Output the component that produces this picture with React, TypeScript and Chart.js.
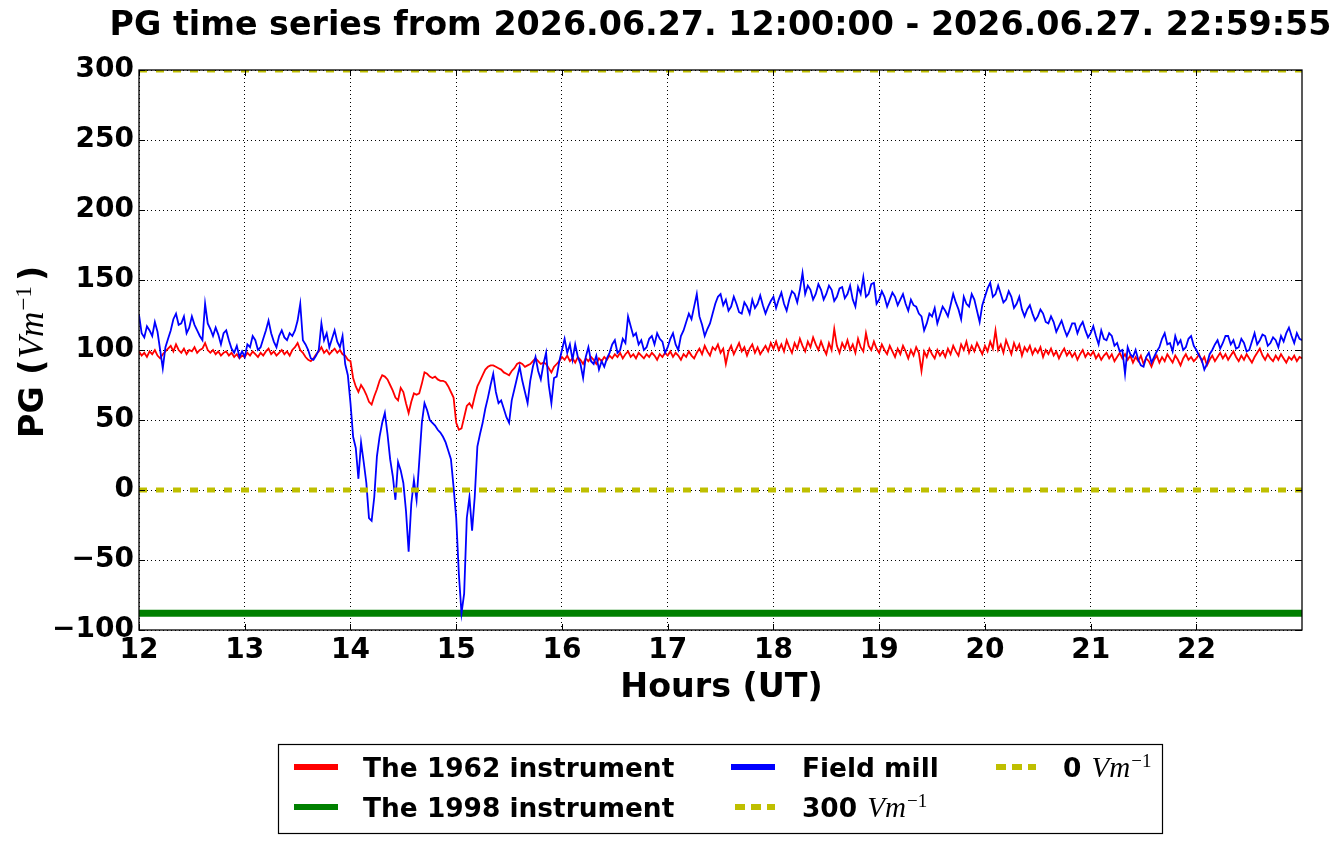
import { useEffect, useRef } from "react";
import { Chart, registerables } from "chart.js";

Chart.register(...registerables);

const TITLE = "PG time series from 2026.06.27. 12:00:00 - 2026.06.27. 22:59:55";
const X_TITLE = "Hours (UT)";

// samples every 0.025 h starting at 12:00 UT
const START_HOUR = 12;
const END_HOUR = 22.9986;
const STEP = 0.025;

const hourTicks = [12, 13, 14, 15, 16, 17, 18, 19, 20, 21, 22];
const pgTicks = [-100, -50, 0, 50, 100, 150, 200, 250, 300];

// The 1962 instrument (V/m)
const pg1962 = [
  99, 96, 98, 95, 99, 97, 100, 96, 94, 97, 99, 101, 103, 99, 104, 100, 98, 101, 97, 100,
  99, 102, 98, 100, 101, 105, 100, 98, 100, 97, 99, 96, 98, 99, 96, 98, 95, 97, 94, 96,
  95, 98, 96, 99, 97, 95, 98, 96, 99, 101, 97, 99, 96, 98, 100, 97, 99, 96, 100, 102,
  105, 100, 98, 95, 93, 92, 94, 97, 99, 102, 98, 100, 97, 99, 101, 98, 100, 97, 96, 93,
  92, 80, 74, 70, 75, 72, 68, 63, 61, 67, 72, 78, 82, 81, 79, 75, 71, 66, 64, 73,
  70, 62, 55, 63, 69, 68, 69, 76, 84, 83, 81, 80, 81, 79, 78, 78, 77, 74, 70, 66,
  48, 43, 44, 52, 60, 62, 59, 67, 74, 78, 82, 86, 88, 89, 89, 88, 87, 86, 84, 83,
  82, 85, 87, 90, 91, 90, 88, 89, 90, 92, 94, 92, 90, 91, 90, 87, 84, 88, 90, 92,
  95, 93, 96, 92, 94, 91, 95, 93, 90, 94, 92, 95, 93, 90, 94, 92, 95, 93, 96, 94,
  97, 95, 98, 94, 97, 99, 95, 97, 94, 98, 96, 94, 97, 95, 98, 96, 93, 97, 95, 98,
  96, 99, 95, 98, 96, 93, 97, 95, 99, 96, 94, 98, 101, 97, 103, 99, 96, 102, 100, 104,
  98, 101, 90, 99, 103, 97, 101, 105, 99, 102, 96, 101, 104, 98, 102, 97, 100, 103, 99, 105,
  101, 106, 100, 104, 99, 107, 102, 98, 105, 101, 108, 103, 99, 106, 102, 109, 104, 100, 106, 101,
  97, 105, 100, 115, 103, 98, 105, 101, 107, 100, 104, 98, 108, 102, 99, 112, 103, 100, 106, 101,
  98, 104, 100, 97, 103, 99, 95, 101, 97, 103, 99, 94, 100, 96, 102, 98, 85, 99, 95, 101,
  97, 94, 100, 96, 99, 95, 101, 97, 103, 99, 96, 104, 100, 106, 98, 103, 99, 105, 101, 97,
  103, 99, 106, 101, 114, 100, 104, 98, 107, 102, 97, 105, 100, 104, 96, 102, 99, 103, 97, 101,
  98, 102, 95, 100, 97, 101, 96, 99, 94, 98, 101, 96, 99, 95, 98, 93, 97, 100, 95, 98,
  96, 99, 94, 97, 93, 96, 98, 94, 97, 92, 95, 98, 94, 97, 93, 96, 91, 95, 92, 96,
  90, 94, 92, 88, 93, 96, 91, 95, 92, 97, 94, 91, 96, 93, 89, 94, 97, 93, 95, 92,
  94, 97, 92, 95, 89, 93, 96, 92, 95, 98, 94, 97, 93, 96, 99, 95, 92, 96, 93, 97,
  94, 91, 95, 98, 101, 96, 93, 97, 94, 92, 96, 93, 97, 94, 91, 95, 93, 96, 92, 95,
  94,
];

// Field mill (V/m)
const fieldMill = [
  125, 112, 109, 117, 114, 110, 120, 113, 100, 87, 102, 108, 114, 122, 126, 118, 119, 124, 112, 116,
  124, 118, 114, 110, 107, 133, 119, 115, 110, 116, 111, 104, 112, 114, 107, 101, 98, 103, 95, 99,
  95, 104, 102, 110, 107, 100, 102, 108, 114, 121, 112, 106, 102, 110, 114, 109, 107, 112, 110, 114,
  121, 133, 107, 104, 100, 94, 93, 96, 100, 119, 107, 112, 102, 108, 114, 106, 102, 110, 90, 82,
  62, 38, 30, 8, 34, 20, 5, -20, -22, -5, 24, 38, 48, 55, 40, 22, 10, -7, 20, 14,
  5, -15, -44, -10, 7, -7, 20, 48, 62, 57, 50, 48, 46, 43, 41, 38, 34, 28, 22, 2,
  -20, -60, -88, -74, -20, -5, -29, -5, 31, 40, 48, 58, 66, 75, 83, 70, 62, 64, 58, 52,
  48, 64, 72, 80, 88, 78, 70, 62, 78, 88, 95, 85, 79, 90, 98, 75, 62, 80, 81, 92,
  100, 108, 98, 104, 93, 104, 95, 90, 80, 95, 102, 92, 90, 96, 86, 92, 88, 94, 98, 104,
  107, 98, 100, 108, 105, 124, 117, 110, 112, 104, 107, 100, 102, 108, 110, 104, 112, 108, 106, 98,
  102, 108, 112, 104, 100, 110, 114, 120, 126, 122, 131, 140, 124, 118, 110, 115, 119, 126, 133, 138,
  140, 132, 136, 128, 131, 138, 133, 127, 126, 134, 131, 126, 136, 130, 133, 139, 132, 126, 131, 135,
  138, 130, 136, 141, 133, 128, 136, 142, 140, 134, 143, 155, 140, 146, 143, 136, 140, 147, 143, 136,
  140, 146, 143, 135, 138, 144, 145, 137, 140, 146, 136, 131, 145, 140, 152, 138, 140, 147, 148, 133,
  136, 142, 138, 131, 136, 141, 138, 132, 136, 140, 133, 128, 136, 132, 131, 126, 124, 114, 119, 126,
  124, 130, 119, 125, 131, 128, 124, 132, 140, 134, 129, 122, 138, 133, 131, 140, 136, 128, 120, 132,
  138, 144, 148, 138, 140, 146, 140, 134, 136, 142, 138, 130, 133, 138, 129, 124, 129, 132, 126, 121,
  124, 129, 126, 120, 119, 124, 120, 113, 117, 121, 115, 110, 114, 119, 119, 112, 117, 120, 114, 109,
  112, 117, 110, 104, 114, 108, 107, 112, 110, 103, 105, 99, 100, 83, 102, 97, 95, 100, 93, 89,
  88, 95, 98, 91, 95, 99, 102, 108, 112, 104, 105, 99, 110, 104, 107, 100, 102, 108, 110, 103,
  100, 96, 93, 86, 90, 97, 100, 104, 107, 101, 105, 110, 110, 104, 107, 101, 102, 108, 105, 99,
  100, 106, 112, 104, 107, 111, 110, 103, 105, 109, 107, 102, 110, 106, 112, 116, 110, 105, 112, 108,
  107,
];

// The 1998 instrument sat at a constant level all afternoon
const pg1998 = -88;
const refLow = 0;
const refHigh = 300;

const legendLabels = ["The 1962 instrument", "The 1998 instrument", "Field mill", "300", "0"];

const RED = "#ff0000";
const GREEN = "#008000";
const BLUE = "#0000ff";
const YELLOW = "#bfbf00";

const bold = (s: number) => `bold ${s}px "DejaVu Sans"`;
const ital = (s: number) => `italic ${s}px "Liberation Serif"`;
const serif = (s: number) => `${s}px "Liberation Serif"`;

type Run = { text: string; font: string; rise?: number; gap?: number };

function drawRuns(ctx: CanvasRenderingContext2D, runs: Run[], x: number, y: number) {
  let cx = x;
  for (const r of runs) {
    cx += r.gap ?? 0;
    ctx.font = r.font;
    ctx.fillText(r.text, cx, y - (r.rise ?? 0));
    cx += ctx.measureText(r.text).width;
  }
  return cx - x;
}

// "Vm^{-1}" in a mathtext-like look
function unitRuns(size: number): Run[] {
  return [
    { text: "Vm", font: ital(size * 1.1), gap: 1 },
    { text: "\u22121", font: serif(size * 0.72), rise: size * 0.38, gap: 1 },
  ];
}

const series = (vals: number[]) => vals.map((y, i) => ({ x: START_HOUR + i * STEP, y }));
const flat = (v: number) => [
  { x: START_HOUR, y: v },
  { x: END_HOUR, y: v },
];

const decorations = {
  id: "decorations",
  afterDatasetsDraw(chart: Chart) {
    const { ctx, chartArea: a, scales } = chart;
    ctx.save();
    ctx.strokeStyle = "#000";
    ctx.lineWidth = 1.3;
    ctx.strokeRect(a.left, a.top, a.right - a.left, a.bottom - a.top);
    // inward ticks on all four sides
    ctx.lineWidth = 1;
    const tl = 6;
    ctx.beginPath();
    for (const h of hourTicks) {
      const px = Math.round(scales.x.getPixelForValue(h)) + 0.5;
      ctx.moveTo(px, a.bottom);
      ctx.lineTo(px, a.bottom - tl);
      ctx.moveTo(px, a.top);
      ctx.lineTo(px, a.top + tl);
    }
    for (const v of pgTicks) {
      const py = Math.round(scales.y.getPixelForValue(v)) + 0.5;
      ctx.moveTo(a.left, py);
      ctx.lineTo(a.left + tl, py);
      ctx.moveTo(a.right, py);
      ctx.lineTo(a.right - tl, py);
    }
    ctx.stroke();
    ctx.restore();
  },
  afterDraw(chart: Chart) {
    const { ctx, chartArea: a } = chart;
    ctx.save();
    ctx.fillStyle = "#000";
    ctx.textBaseline = "alphabetic";

    // title
    ctx.font = bold(33.3);
    ctx.textAlign = "center";
    ctx.fillText(TITLE, (a.left + a.right) / 2, 35);

    // x axis title
    ctx.fillText(X_TITLE, (a.left + a.right) / 2 + 1, 697);

    // y axis title, rotated
    ctx.textAlign = "left";
    ctx.save();
    ctx.translate(43, 438);
    ctx.rotate(-Math.PI / 2);
    drawRuns(
      ctx,
      [{ text: "PG (", font: bold(33.3) }, ...unitRuns(32), { text: ")", font: bold(33.3), gap: 5 }],
      0,
      0
    );
    ctx.restore();

    // legend box
    ctx.lineWidth = 1.2;
    ctx.strokeStyle = "#000";
    ctx.fillStyle = "#fff";
    ctx.fillRect(278, 744, 885, 90);
    ctx.strokeRect(278.5, 744.5, 884, 89);

    const sample = (x1: number, x2: number, y: number, color: string, dash: number[]) => {
      ctx.save();
      ctx.strokeStyle = color;
      ctx.lineWidth = 6;
      ctx.lineCap = "butt";
      ctx.setLineDash(dash);
      ctx.beginPath();
      ctx.moveTo(x1, y);
      ctx.lineTo(x2, y);
      ctx.stroke();
      ctx.restore();
    };
    const rows = [767, 807];
    const fs = 26.4;
    ctx.fillStyle = "#000";

    sample(294, 338, rows[0], RED, []);
    sample(294, 338, rows[1], GREEN, []);
    sample(731, 775, rows[0], BLUE, []);
    sample(735, 775, rows[1], YELLOW, [10, 6]);
    sample(996, 1036, rows[0], YELLOW, [10, 6]);

    ctx.font = bold(fs);
    ctx.fillText(legendLabels[0], 363, rows[0] + 10);
    ctx.fillText(legendLabels[1], 363, rows[1] + 10);
    ctx.fillText(legendLabels[2], 802, rows[0] + 10);
    drawRuns(ctx, [{ text: legendLabels[3] + " ", font: bold(fs) }, ...unitRuns(fs)], 802, rows[1] + 10);
    drawRuns(ctx, [{ text: legendLabels[4] + " ", font: bold(fs) }, ...unitRuns(fs)], 1063, rows[0] + 10);

    ctx.restore();
  },
};

export default function App() {
  const canvasRef = useRef<HTMLCanvasElement | null>(null);
  const chartRef = useRef<Chart | null>(null);

  useEffect(() => {
    document.body.style.margin = "0";
    if (!canvasRef.current) return;
    if (chartRef.current) chartRef.current.destroy();

    chartRef.current = new Chart(canvasRef.current, {
      type: "line",
      data: {
        datasets: [
          { label: legendLabels[0], data: series(pg1962), borderColor: RED, borderWidth: 1.8, order: 5 },
          { label: legendLabels[1], data: flat(pg1998), borderColor: GREEN, borderWidth: 7, order: 4 },
          { label: legendLabels[2], data: series(fieldMill), borderColor: BLUE, borderWidth: 1.8, order: 3 },
          {
            label: legendLabels[3],
            data: flat(refHigh),
            borderColor: YELLOW,
            borderWidth: 5,
            borderDash: [8, 9],
            order: 2,
            clip: 0,
          },
          {
            label: legendLabels[4],
            data: flat(refLow),
            borderColor: YELLOW,
            borderWidth: 5,
            borderDash: [8, 9],
            order: 1,
          },
        ],
      },
      options: {
        animation: false,
        responsive: false,
        devicePixelRatio: 1,
        parsing: false,
        layout: { padding: { top: 70, right: 39, left: 0, bottom: 0 } },
        elements: { point: { radius: 0 }, line: { tension: 0 } },
        plugins: { legend: { display: false }, title: { display: false }, tooltip: { enabled: false } },
        scales: {
          x: {
            type: "linear",
            min: START_HOUR,
            max: END_HOUR,
            afterBuildTicks: (s: any) => {
              s.ticks = hourTicks.map((value) => ({ value }));
            },
            afterFit: (s: any) => {
              s.height = 214;
            },
            ticks: {
              autoSkip: false,
              maxRotation: 0,
              padding: 4,
              color: "#000",
              font: { family: "DejaVu Sans", weight: "bold", size: 28 },
            },
            grid: { color: "#000", lineWidth: 1, drawTicks: false },
            border: { display: false, dash: [1, 3] },
          },
          y: {
            type: "linear",
            min: -100,
            max: 300,
            afterBuildTicks: (s: any) => {
              s.ticks = pgTicks.map((value) => ({ value }));
            },
            afterFit: (s: any) => {
              s.width = 139;
            },
            ticks: {
              padding: 5,
              color: "#000",
              font: { family: "DejaVu Sans", weight: "bold", size: 28 },
              callback: (v: any) => String(v).replace("-", "\u2212"),
            },
            grid: { color: "#000", lineWidth: 1, drawTicks: false },
            border: { display: false, dash: [1, 3] },
          },
        },
      },
      plugins: [decorations],
    } as any);

    return () => {
      chartRef.current?.destroy();
      chartRef.current = null;
    };
  }, []);

  return (
    <div style={{ width: 1341, height: 844, background: "#fff" }}>
      <canvas ref={canvasRef} width={1341} height={844} style={{ display: "block" }} />
    </div>
  );
}
